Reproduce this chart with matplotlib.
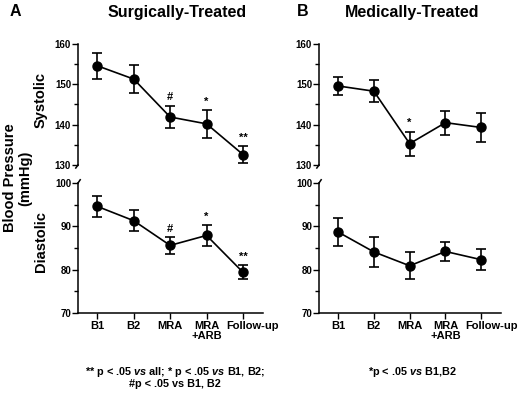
import matplotlib
matplotlib.use("Agg")
import matplotlib.pyplot as plt
import matplotlib.transforms as mtransforms
import numpy as np

plt.rcParams['font.family'] = ['Liberation Sans', 'DejaVu Sans']
plt.rcParams['font.weight'] = 'bold'
plt.rcParams['mathtext.fontset'] = 'custom'
plt.rcParams['mathtext.rm'] = 'Liberation Sans:bold'
plt.rcParams['mathtext.it'] = 'Liberation Sans:italic:bold'
plt.rcParams['mathtext.bf'] = 'Liberation Sans:bold'

categories = ["B1", "B2", "MRA", "MRA\n+ARB", "Follow-up"]

# Surgically-treated
surg_sys = [154.6, 151.3, 141.9, 140.2, 132.6]
surg_sys_err = [3.2, 3.4, 2.8, 3.4, 2.0]
surg_dia = [94.6, 91.3, 85.6, 87.9, 79.4]
surg_dia_err = [2.5, 2.4, 1.9, 2.4, 1.6]
surg_sys_marks = ["", "", "#", "*", "**"]
surg_dia_marks = ["", "", "#", "*", "**"]

# Medically-treated
med_sys = [149.6, 148.3, 135.3, 140.5, 139.3]
med_sys_err = [2.3, 2.7, 3.0, 3.0, 3.5]
med_dia = [88.7, 84.1, 80.9, 84.2, 82.3]
med_dia_err = [3.2, 3.5, 3.1, 2.3, 2.4]
med_sys_marks = ["", "", "*", "", ""]
med_dia_marks = ["", "", "", "", ""]

W, H = 520, 394
fig = plt.figure(figsize=(W / 100, H / 100), dpi=100)

def rect(left, right, top, bottom):
    return [left / W, 1 - bottom / H, (right - left) / W, (bottom - top) / H]

x = np.arange(1, len(categories) + 1)

def draw(ax, vals, errs, marks, ylim, yticks, minor, is_bottom):
    ax.errorbar(x, vals, yerr=errs, fmt='o-', color='black', ms=6.5, lw=1.2,
                elinewidth=1.2, capsize=3.6, capthick=1.2, clip_on=False, zorder=3)
    for xi, v, e, m in zip(x, vals, errs, marks):
        if m:
            ax.annotate(m, (xi, v + e), xytext=(0, 2.5), textcoords='offset points',
                        ha='center', va='bottom', fontsize=8, fontweight='bold')
    ax.set_xlim(0.47, 5.55)
    ax.set_ylim(*ylim)
    ax.set_yticks(yticks)
    ax.set_yticks(minor, minor=True)
    ax.tick_params(axis='y', which='major', labelsize=7, length=4, width=1, pad=1)
    ax.tick_params(axis='y', which='minor', length=3, width=1)
    for s in ['top', 'right']:
        ax.spines[s].set_visible(False)
    ax.spines['left'].set_linewidth(1.1)
    ax.spines['bottom'].set_linewidth(1.1)
    if is_bottom:
        ax.set_xticks(x)
        ax.set_xticklabels(categories, fontsize=8, fontweight='bold', linespacing=1.0)
        ax.tick_params(axis='x', length=4, width=1, pad=2)
        lbl = ax.get_xticklabels()[-1]
        lbl.set_transform(lbl.get_transform() +
                          mtransforms.ScaledTranslation(10 / 100, 0, fig.dpi_scale_trans))
    else:
        ax.spines['bottom'].set_visible(False)
        ax.set_xticks([])
    ax.patch.set_alpha(0)

axes = {}
for name, (l, r) in {'A': (78, 263), 'B': (319, 501)}.items():
    axs = fig.add_axes(rect(l, r, 44, 165))
    axd = fig.add_axes(rect(l, r, 183, 313))
    axes[name] = (axs, axd)

draw(axes['A'][0], surg_sys, surg_sys_err, surg_sys_marks, (130, 160), [130, 140, 150, 160], [135, 145, 155], False)
draw(axes['A'][1], surg_dia, surg_dia_err, surg_dia_marks, (70, 100), [70, 80, 90, 100], [75, 85, 95], True)
draw(axes['B'][0], med_sys, med_sys_err, med_sys_marks, (130, 160), [130, 140, 150, 160], [135, 145, 155], False)
draw(axes['B'][1], med_dia, med_dia_err, med_dia_marks, (70, 100), [70, 80, 90, 100], [75, 85, 95], True)

# break marks
for name in ['A', 'B']:
    axs, axd = axes[name]
    axs.plot([0, -0.012], [0, -0.025], transform=axs.transAxes, color='black', lw=1.1, clip_on=False)
    axd.plot([0, 0.012], [1, 1.025], transform=axd.transAxes, color='black', lw=1.1, clip_on=False)

# titles and letters
fig.text(15 / W, 1 - 12 / H, "A", fontsize=11.5, fontweight='bold', ha='center', va='center')
fig.text(303 / W, 1 - 12 / H, "B", fontsize=11.5, fontweight='bold', ha='center', va='center')
fig.text(177 / W, 1 - 12 / H, "Surgically-Treated", fontsize=11.5, fontweight='bold', ha='center', va='center')
fig.text(412 / W, 1 - 12 / H, "Medically-Treated", fontsize=11.5, fontweight='bold', ha='center', va='center')

# axis labels
fig.text(41 / W, 1 - 100 / H, "Systolic", fontsize=10.5, fontweight='bold', rotation=90, ha='center', va='center')
fig.text(41 / W, 1 - 242 / H, "Diastolic", fontsize=10.5, fontweight='bold', rotation=90, ha='center', va='center')
fig.text(18 / W, 1 - 178 / H, "Blood Pressure\n(mmHg)", fontsize=10.5, fontweight='bold', rotation=90,
         ha='center', va='center', linespacing=1.1, multialignment='center')

# footnotes
fig.text(175 / W, 1 - 372 / H, r"** p < .05 $\mathit{vs}$ all; * p < .05 $\mathit{vs}$ B1, B2;",
         fontsize=7.8, fontweight='bold', ha='center', va='center')
fig.text(175 / W, 1 - 384 / H, "#p < .05 vs B1, B2", fontsize=7.8, fontweight='bold', ha='center', va='center')
fig.text(412 / W, 1 - 372 / H, r"*p < .05 $\mathit{vs}$ B1,B2", fontsize=7.8, fontweight='bold', ha='center', va='center')

fig.savefig("out.png", dpi=100, facecolor='white')
